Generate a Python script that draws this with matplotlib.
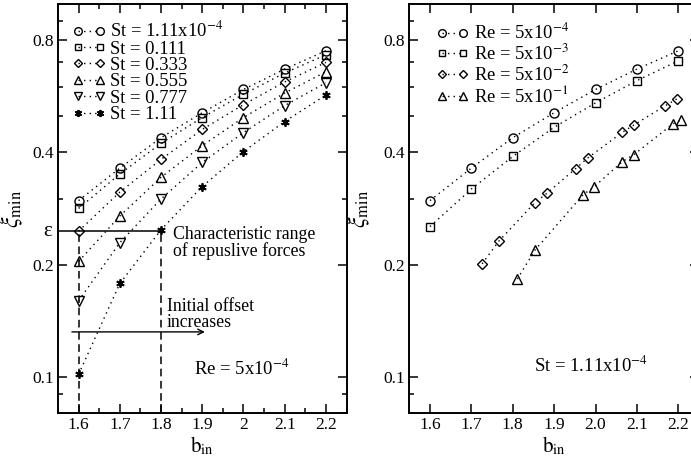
import matplotlib
matplotlib.use("Agg")
import matplotlib.pyplot as plt
import numpy as np
from matplotlib.ticker import FixedLocator, FixedFormatter, NullFormatter, MultipleLocator

plt.rcParams['font.family'] = ['Liberation Serif', 'DejaVu Serif']
plt.rcParams['mathtext.fontset'] = 'stix'

# left panel: Re = 5x10^-4, varying St
b_left = [1.6, 1.7, 1.8, 1.9, 2.0, 2.1, 2.2]
st_labels = ['St = 1.11x10$^{-4}$', 'St = 0.111', 'St = 0.333',
             'St = 0.555', 'St = 0.777', 'St = 1.11']
st_values = [
    [0.297, 0.363, 0.438, 0.511, 0.590, 0.669, 0.749],
    [0.283, 0.350, 0.423, 0.496, 0.573, 0.653, 0.731],
    [0.246, 0.313, 0.383, 0.461, 0.537, 0.618, 0.697],
    [0.204, 0.270, 0.343, 0.417, 0.496, 0.577, 0.658],
    [0.160, 0.229, 0.300, 0.376, 0.452, 0.534, 0.615],
    [0.1016, 0.178, 0.248, 0.324, 0.402, 0.484, 0.570],
]
st_markers = ['o', 's', 'D', '^', 'v', (6, 2, 0)]

# right panel: St = 1.11x10^-4, varying Re
re_labels = ['Re = 5x10$^{-4}$', 'Re = 5x10$^{-3}$',
             'Re = 5x10$^{-2}$', 'Re = 5x10$^{-1}$']
re_b = [
    [1.6, 1.7, 1.8, 1.9, 2.0, 2.1, 2.2],
    [1.6, 1.7, 1.8, 1.9, 2.0, 2.1, 2.2],
    [1.726, 1.766, 1.853, 1.883, 1.952, 1.982, 2.065, 2.093, 2.169, 2.196],
    [1.811, 1.854, 1.970, 1.996, 2.065, 2.092, 2.188, 2.206],
]
re_values = [
    [0.297, 0.363, 0.438, 0.511, 0.590, 0.669, 0.749],
    [0.253, 0.319, 0.390, 0.467, 0.543, 0.623, 0.704],
    [0.201, 0.231, 0.293, 0.311, 0.362, 0.387, 0.453, 0.474, 0.534, 0.556],
    [0.183, 0.219, 0.308, 0.323, 0.378, 0.394, 0.478, 0.488],
]
re_markers = ['o', 's', 'D', '^']

eps = 0.246
ymajor = [0.1, 0.2, 0.4, 0.8]
yminor = [0.08, 0.09, 0.3, 0.5, 0.6, 0.7, 0.9]
DOT = (0, (1, 3))


def marker_style(m):
    if isinstance(m, tuple):
        return dict(marker=m, ms=6, mfc='k', mec='k', mew=1.3)
    ms = {'D': 5, 's': 5.5}.get(m, 6.5)
    return dict(marker=m, ms=ms, mfc='none', mec='k', mew=1.0)


def style_axes(ax, label_x):
    ax.set_yscale('log')
    ax.set_ylim(0.08, 1.0)
    ax.set_xlim(1.55, 2.25)
    ax.yaxis.set_major_locator(FixedLocator(ymajor))
    ax.yaxis.set_minor_locator(FixedLocator(yminor))
    ax.yaxis.set_major_formatter(FixedFormatter(['0.1', '0.2', '0.4', '0.8']))
    ax.yaxis.set_minor_formatter(NullFormatter())
    ax.tick_params(which='both', direction='in', top=True, right=True, width=1.1)
    ax.tick_params(which='major', length=6.5, labelsize=12.5)
    ax.tick_params(which='minor', length=3.3)
    ax.tick_params(axis='y', which='major', pad=3)
    ax.tick_params(axis='x', which='major', pad=3)
    for s in ax.spines.values():
        s.set_linewidth(1.4)
    ax.set_ylabel(r'$\xi_{\mathrm{min}}$', fontsize=17)
    ax.yaxis.set_label_coords(label_x, 0.5)
    ax.set_xlabel(r'$\mathrm{b}_{\mathrm{in}}$', fontsize=15, labelpad=1)


fig = plt.figure(figsize=(6.91, 4.66), dpi=100)
ax1 = fig.add_axes([58 / 691, 53 / 466, 288.5 / 691, 409 / 466])
ax2 = fig.add_axes([409.3 / 691, 53 / 466, 289.7 / 691, 409 / 466])

# left panel
for vals, lab, m in zip(st_values, st_labels, st_markers):
    ax1.plot(b_left, vals, linestyle=DOT, color='k', lw=1.0, label=lab,
             **marker_style(m))

style_axes(ax1, -0.114)
ax1.set_xticks([1.6, 1.7, 1.8, 1.9, 2.0, 2.1, 2.2])
ax1.set_xticklabels(['1.6', '1.7', '1.8', '1.9', '2', '2.1', '2.2'])
ax1.xaxis.set_minor_locator(MultipleLocator(0.05))

ax1.plot([1.55, 1.8], [eps, eps], color='k', lw=1.1)
ax1.plot([1.6, 1.6], [0.08, eps], color='k', lw=1.1, ls=(0, (5, 3)))
ax1.plot([1.8, 1.8], [0.08, eps], color='k', lw=1.1, ls=(0, (5, 3)))
ax1.text(-0.036, eps, 'ε', transform=ax1.get_yaxis_transform(), fontsize=15,
         ha='center', va='center')
ax1.text(1.829, 0.229, 'Characteristic range\nof repuslive forces', fontsize=12.8,
         ha='left', va='center', linespacing=0.95)
ax1.text(1.814, 0.147, 'Initial offset\nincreases', fontsize=12.8,
         ha='left', va='center', linespacing=0.95)
ax1.annotate('', xy=(1.913, 0.132), xytext=(1.577, 0.132),
             arrowprops=dict(arrowstyle='->', color='k', lw=1.0))
ax1.text(1.997, 0.105, 'Re = 5x10$^{-4}$', fontsize=13.5, ha='center', va='center')

ax1.legend(loc='upper left', bbox_to_anchor=(0.051, 0.959), frameon=False,
           numpoints=2, handlelength=1.77, handletextpad=0.24, markerscale=0.85,
           labelspacing=-0.03, fontsize=13.4, borderpad=0, borderaxespad=0)

# right panel
for bs, vals, lab, m in zip(re_b, re_values, re_labels, re_markers):
    ax2.plot(bs, vals, linestyle=DOT, color='k', lw=1.0, label=lab,
             **marker_style(m))

style_axes(ax2, -0.128)
ax2.set_xticks([1.6, 1.7, 1.8, 1.9, 2.0, 2.1, 2.2])
ax2.set_xticklabels(['1.6', '1.7', '1.8', '1.9', '2.0', '2.1', '2.2'])
ax2.xaxis.set_minor_locator(FixedLocator([]))
ax2.text(1.99, 0.107, 'St = 1.11x10$^{-4}$', fontsize=13.5, ha='center', va='center')

ax2.legend(loc='upper left', bbox_to_anchor=(0.0925, 0.954), frameon=False,
           numpoints=2, handlelength=1.77, handletextpad=0.24, markerscale=0.85,
           labelspacing=0.03, fontsize=13.4, borderpad=0, borderaxespad=0)

fig.savefig('out.png', dpi=100)
